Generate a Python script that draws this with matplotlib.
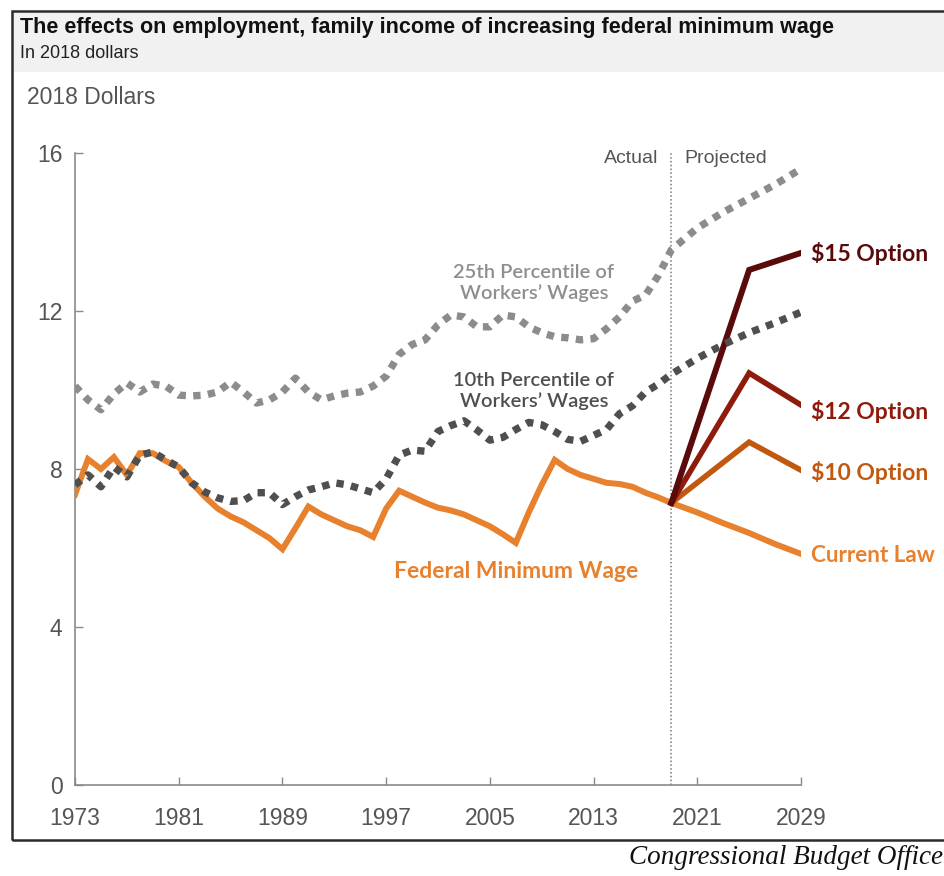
import matplotlib
matplotlib.use("Agg")
import matplotlib.pyplot as plt
from matplotlib.patches import Rectangle

# ---------------- data ----------------
hist_years = list(range(1973, 2020))
fed_min_wage = [7.35, 8.25, 8.0, 8.3, 7.85, 8.4, 8.4, 8.2, 8.05, 7.65,
                7.3, 7.0, 6.8, 6.65, 6.45, 6.25, 5.97, 6.5, 7.05, 6.85,
                6.7, 6.55, 6.45, 6.28, 7.0, 7.45, 7.3, 7.15, 7.02, 6.95,
                6.85, 6.7, 6.55, 6.35, 6.13, 6.9, 7.6, 8.23, 8.0, 7.85,
                7.75, 7.65, 7.62, 7.55, 7.4, 7.28, 7.14]

pct_years = hist_years + [2021, 2023, 2025, 2027, 2029]
p25_wages = [10.1, 9.75, 9.5, 9.9, 10.18, 9.95, 10.15, 10.1, 9.87, 9.85,
             9.87, 9.95, 10.2, 9.95, 9.67, 9.75, 9.95, 10.3, 9.95, 9.75,
             9.85, 9.92, 9.95, 10.1, 10.35, 10.9, 11.15, 11.27, 11.65, 11.9,
             11.85, 11.6, 11.6, 11.9, 11.85, 11.6, 11.45, 11.35, 11.32, 11.27,
             11.3, 11.55, 11.85, 12.25, 12.4, 12.9, 13.55,
             14.1, 14.5, 14.85, 15.2, 15.6]
p10_wages = [7.6, 7.85, 7.55, 8.05, 7.8, 8.35, 8.43, 8.23, 8.05, 7.65,
             7.42, 7.27, 7.18, 7.2, 7.4, 7.4, 7.1, 7.3, 7.47, 7.55,
             7.65, 7.6, 7.5, 7.4, 7.75, 8.35, 8.48, 8.45, 8.95, 9.1,
             9.22, 8.99, 8.73, 8.8, 9.0, 9.18, 9.12, 8.95, 8.75, 8.7,
             8.85, 9.0, 9.4, 9.6, 9.95, 10.15, 10.4,
             10.8, 11.15, 11.45, 11.7, 11.97]

proj_years = [2019, 2021, 2023, 2025, 2027, 2029]
current_law = [7.14, 6.9, 6.63, 6.38, 6.1, 5.85]

option_years = [2019, 2025, 2029]
option_15 = [7.14, 13.04, 13.47]
option_12 = [7.14, 10.43, 9.62]
option_10 = [7.14, 8.68, 7.97]

x_ticks = [1973, 1981, 1989, 1997, 2005, 2013, 2021, 2029]
y_ticks = [0, 4, 8, 12, 16]

# ---------------- styling ----------------
ORANGE = "#E8812E"
C15 = "#5A0A0A"
C12 = "#8E1B0B"
C10 = "#C2580F"
GRAY25 = "#8C8C8C"
GRAY10 = "#4F4F4F"
TICKC = "#555555"

narrow = ["Liberation Sans Narrow", "Liberation Sans", "DejaVu Sans"]
labfont = ["Lato", "DejaVu Sans"]

W, H = 944, 876
fig = plt.figure(figsize=(W / 100, H / 100), dpi=100)

def fx(px):
    return px / W

def fy(py):
    return 1 - py / H

# header band and frame
fig.patches.append(Rectangle((fx(12), fy(72)), 1 - fx(12), fy(12) - fy(72),
                             transform=fig.transFigure, facecolor="#F1F1F1",
                             edgecolor="none", zorder=0))
fig.patches.append(Rectangle((fx(12), fy(840)), 1.02 - fx(12), fy(11) - fy(840),
                             transform=fig.transFigure, facecolor="none",
                             edgecolor="#2b2b2b", linewidth=1.8, zorder=5))

fig.text(fx(20), fy(27), "The effects on employment, family income of increasing federal minimum wage",
         fontsize=15.5, fontweight="bold", family=narrow, color="#111111",
         ha="left", va="center")
fig.text(fx(20), fy(53), "In 2018 dollars", fontsize=13, family=narrow,
         color="#222222", ha="left", va="center")
fig.text(fx(27), fy(97), "2018 Dollars", fontsize=16.5, family=narrow,
         color=TICKC, ha="left", va="center")
fig.text(0.999, fy(858), "Congressional Budget Office", fontsize=19.5,
         family=["Liberation Serif", "DejaVu Serif"], style="italic",
         color="#111111", ha="right", va="center")

ax = fig.add_axes([fx(75), fy(785), fx(801) - fx(75), fy(153) - fy(785)])
ax.set_xlim(1973, 2029)
ax.set_ylim(0, 16)

for s in ["top", "right"]:
    ax.spines[s].set_visible(False)
for s in ["left", "bottom"]:
    ax.spines[s].set_color("#8a8a8a")
    ax.spines[s].set_linewidth(1.2)

ax.set_xticks(x_ticks)
ax.set_yticks(y_ticks)
ax.tick_params(axis="both", direction="in", length=6, width=1, color="#8a8a8a",
               labelsize=16.5, labelcolor=TICKC)
ax.tick_params(axis="x", pad=16)
ax.tick_params(axis="y", pad=9)
for lab in ax.get_xticklabels() + ax.get_yticklabels():
    lab.set_family(narrow)

# actual / projected divider
ax.axvline(2019, color="#777777", linestyle=(0, (1, 1.5)), linewidth=1.1, zorder=1)
ax.text(2019 - 1.0, 15.85, "Actual", fontsize=14, family=narrow, color=TICKC,
        ha="right", va="center")
ax.text(2019 + 1.0, 15.85, "Projected", fontsize=14, family=narrow, color=TICKC,
        ha="left", va="center")

# lines
ax.plot(hist_years, fed_min_wage, color=ORANGE, linewidth=4.3,
        solid_joinstyle="miter", zorder=3)
ax.plot(proj_years, current_law, color=ORANGE, linewidth=4.3, zorder=3)
ax.plot(option_years, option_10, color=C10, linewidth=4.0, solid_joinstyle="miter", zorder=3)
ax.plot(option_years, option_12, color=C12, linewidth=4.0, solid_joinstyle="miter", zorder=3)
ax.plot(option_years, option_15, color=C15, linewidth=4.3, solid_joinstyle="miter", zorder=3)

ax.plot(pct_years, p25_wages, color=GRAY25, linewidth=5.3,
        linestyle=(0, (1, 1.0)), dash_capstyle="butt", zorder=4)
ax.plot(pct_years, p10_wages, color=GRAY10, linewidth=5.3,
        linestyle=(0, (1, 1.0)), dash_capstyle="butt", zorder=4)

# labels
ax.text(2008.4, 12.7, "25th Percentile of\nWorkers\u2019 Wages", fontsize=14.5,
        family=labfont, fontweight="semibold", color="#8E8E8E",
        ha="center", va="center", linespacing=1.2)
ax.text(2008.4, 9.97, "10th Percentile of\nWorkers\u2019 Wages", fontsize=14.5,
        family=labfont, fontweight="semibold", color=GRAY10,
        ha="center", va="center", linespacing=1.2)
ax.text(1997.6, 5.4, "Federal Minimum Wage", fontsize=16.5, fontweight="bold",
        family=labfont, color=ORANGE, ha="left", va="center")

ax.text(2029.8, 13.45, "$15 Option", fontsize=16.5, fontweight="bold",
        family=labfont, color=C15, ha="left", va="center", clip_on=False)
ax.text(2029.8, 9.45, "$12 Option", fontsize=16.5, fontweight="bold",
        family=labfont, color=C12, ha="left", va="center", clip_on=False)
ax.text(2029.8, 7.9, "$10 Option", fontsize=16.5, fontweight="bold",
        family=labfont, color=C10, ha="left", va="center", clip_on=False)
ax.text(2029.8, 5.8, "Current Law", fontsize=16.2, fontweight="bold",
        family=labfont, color=ORANGE, ha="left", va="center", clip_on=False)

fig.savefig("out.png", dpi=100)
